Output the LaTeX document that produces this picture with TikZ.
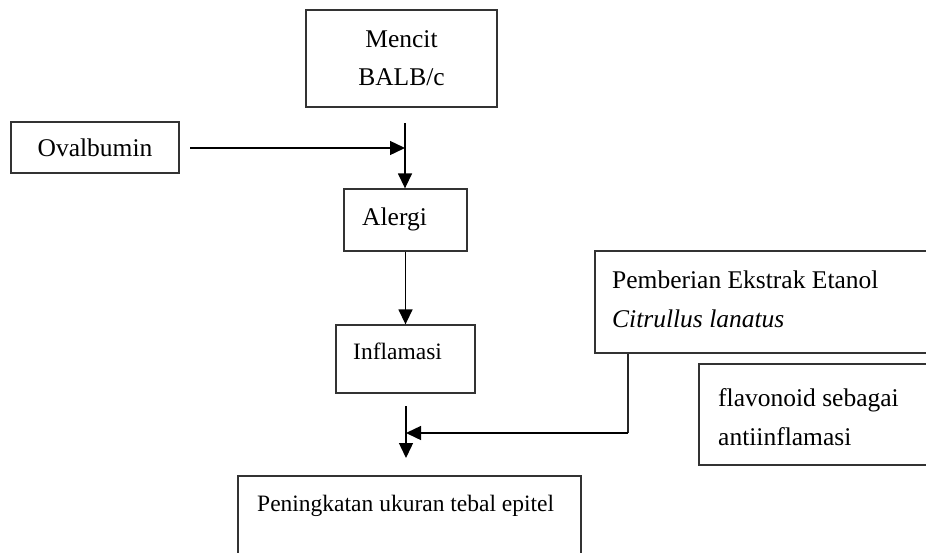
\documentclass[tikz,border=0pt]{standalone}
\usepackage{fontspec}
\setmainfont{Liberation Serif}
\usetikzlibrary{arrows.meta}
\tikzset{
  box/.style={draw=black!80, line width=1.3pt, inner sep=0pt},
  big/.style={font=\fontsize{25.5}{38}\selectfont, inner sep=0pt},
  small/.style={font=\fontsize{23.5}{34}\selectfont, inner sep=0pt},
  arr/.style={draw=black, line width=1.4pt, -{Triangle[length=15pt,width=14pt]}},
  ln/.style={draw=black!85, line width=1.4pt}
}
\begin{document}
\begin{tikzpicture}[x=1pt,y=-1pt]
\clip (0,0) rectangle (926,552);
\fill[white] (0,0) rectangle (926,552);
% boxes
\node[box, minimum width=191pt, minimum height=97pt, big, align=center] (mencit) at (401.5,58.5) {Mencit\\BALB/c};
\node[box, minimum width=168pt, minimum height=51pt, big] (ova) at (95,147.5) {Ovalbumin};
\node[box, minimum width=123pt, minimum height=62pt] (alergi) at (405.5,220) {};
\node[box, minimum width=139pt, minimum height=68pt] (infl) at (405.5,359) {};
\node[box, minimum width=343pt, minimum height=124pt] (pen) at (409.5,538) {};
\node[box, minimum width=365pt, minimum height=102pt] (pemb) at (777.5,302) {};
\node[box, minimum width=261pt, minimum height=101pt] (flav) at (829.5,414.5) {};
% texts
\node[big, anchor=base west] (alergiT) at (362,225) {Alergi};
\node[small, anchor=base west] (inflT) at (353,359) {Inflamasi};
\node[small, anchor=base west] (penT) at (257,511) {Peningkatan ukuran tebal epitel};
\node[big, anchor=base west] (pembT1) at (612,288) {Pemberian Ekstrak Etanol};
\node[big, anchor=base west] (pembT2) at (612,327) {\itshape Citrullus lanatus};
\node[big, anchor=base west] (flavT1) at (718,406) {flavonoid sebagai};
\node[big, anchor=base west] (flavT2) at (718,445) {antiinflamasi};
% connectors
\coordinate (a1) at (405,123);
\coordinate (o1) at (190,148);
\coordinate (j1) at (405,148);
\draw[arr] (a1) -- (a1 |- alergi.north);
\draw[arr] (o1) -- (j1);
\draw[arr] (alergi.south) -- (infl.north);
\coordinate (b1) at (406,406);
\coordinate (b2) at (406,458);
\draw[arr] (b1) -- (b2);
\coordinate (p1) at (628,433);
\coordinate (j2) at (406,433);
\draw[ln] (pemb.south -| p1) -- (p1);
\draw[arr] (p1) -- (j2);
\end{tikzpicture}
\end{document}
